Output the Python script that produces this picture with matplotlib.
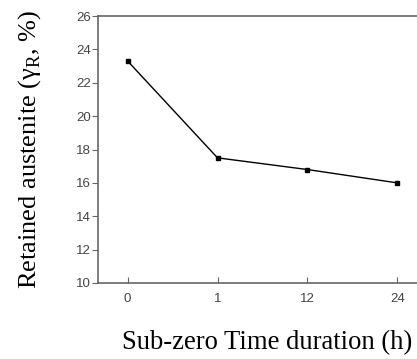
import matplotlib.pyplot as plt
import numpy as np

plt.rcParams['mathtext.fontset'] = 'custom'
plt.rcParams['mathtext.rm'] = 'Liberation Serif'

labels = ['0', '1', '12', '24']
retained = [23.3, 17.5, 16.8, 16.0]

fig = plt.figure(figsize=(4.17, 3.59), dpi=100)
ax = fig.add_axes([0.235, 0.2117, 0.765, 0.7437])

x = np.arange(len(labels))
ax.plot(x, retained, 'k-', marker='s', markersize=3.5, linewidth=1)

ax.set_xlim(-0.33, 3.22)
ax.set_ylim(10, 26)
ax.set_xticks(x)
ax.set_xticklabels(labels)
ax.set_yticks(np.arange(10, 27, 2))

for s in ['left', 'bottom', 'top']:
    ax.spines[s].set_color('#666666')
    ax.spines[s].set_linewidth(1.2)
ax.spines['right'].set_visible(False)

ax.tick_params(axis='y', direction='out', length=4, color='#666666', labelsize=9.5, labelcolor='#444444', pad=1)
ax.tick_params(axis='x', direction='in', length=4, color='#666666', labelsize=9.5, labelcolor='#444444', pad=7)
for t in ax.get_xticklabels() + ax.get_yticklabels():
    t.set_family('Liberation Sans')

ax.set_xlabel('Sub-zero Time duration (h)', family='Liberation Serif', fontsize=19.2)
ax.xaxis.set_label_coords(0.53, -0.178, transform=ax.transAxes)
ax.set_ylabel('Retained austenite (γ$_\\mathrm{R}$, %)', family='Liberation Serif', fontsize=19, labelpad=24)

fig.savefig('out.png', dpi=100)
